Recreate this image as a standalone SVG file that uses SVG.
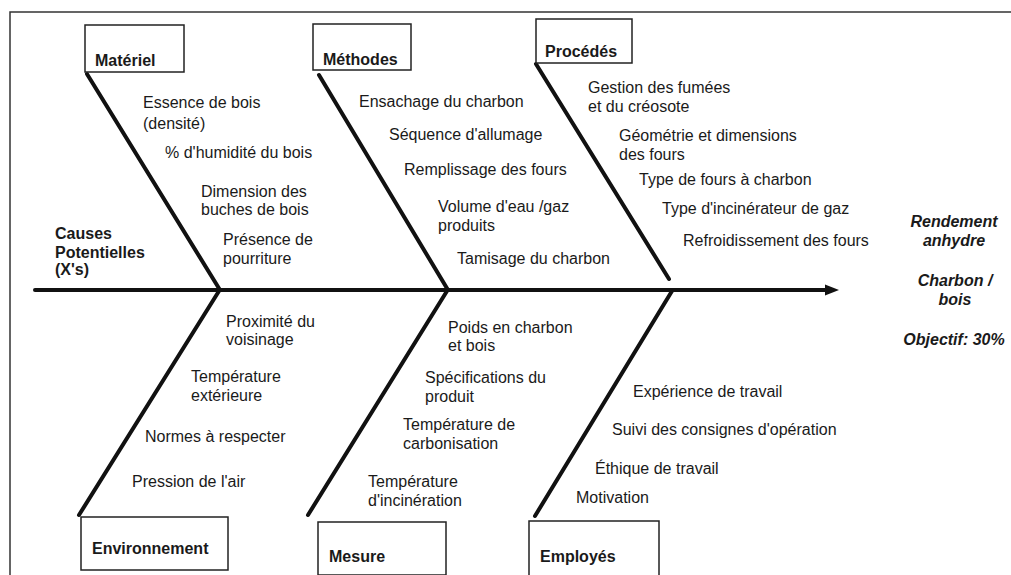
<svg xmlns="http://www.w3.org/2000/svg" width="1011" height="575" viewBox="0 0 1011 575">
<style>
.t{font-family:"Liberation Sans",Arial,sans-serif;font-size:16px;fill:#1a1a1a}
.h{font-family:"Liberation Sans",Arial,sans-serif;font-size:16px;font-weight:bold;fill:#1a1a1a}
.r{font-family:"Liberation Sans",Arial,sans-serif;font-size:16px;font-weight:bold;font-style:italic;fill:#1a1a1a;text-anchor:middle}
.box{fill:#fff;stroke:#222;stroke-width:1.5}
.bone{stroke:#111;stroke-width:4;fill:none;stroke-linecap:round}
</style>
<rect x="0" y="0" width="1011" height="575" fill="#fff"/>
<path d="M10 575 V12 H1011" fill="none" stroke="#333" stroke-width="1.5"/>
<g id="connectors">
<line class="bone" x1="35" y1="290" x2="828" y2="290"/>
<polygon points="825,284.5 839,290 825,295.5" fill="#111"/>
<line class="bone" x1="87" y1="74" x2="220" y2="290"/>
<line class="bone" x1="319" y1="75" x2="448" y2="290"/>
<line class="bone" x1="536" y1="64" x2="669" y2="279"/>
<line class="bone" x1="219" y1="291" x2="79" y2="515"/>
<line class="bone" x1="447" y1="291" x2="308" y2="515"/>
<line class="bone" x1="672" y1="291" x2="535" y2="516"/>
</g>
<g id="causes">
<text class="h" x="55" y="239">Causes</text>
<text class="h" x="55" y="258">Potentielles</text>
<text class="h" x="55" y="275">(X's)</text>
</g>
<g id="materiel">
<rect class="box" x="85" y="25" width="99" height="47"/>
<text class="h" x="95" y="66">Matériel</text>
<text class="t" x="143" y="108">Essence de bois</text>
<text class="t" x="143" y="129">(densité)</text>
<text class="t" x="165" y="158">% d'humidité du bois</text>
<text class="t" x="201" y="197">Dimension des</text>
<text class="t" x="201" y="215">buches de bois</text>
<text class="t" x="223" y="245">Présence de</text>
<text class="t" x="223" y="264">pourriture</text>
</g>
<g id="methodes">
<rect class="box" x="313" y="24" width="98" height="46"/>
<text class="h" x="323" y="65">Méthodes</text>
<text class="t" x="359" y="107">Ensachage du charbon</text>
<text class="t" x="389" y="140">Séquence d'allumage</text>
<text class="t" x="404" y="175">Remplissage des fours</text>
<text class="t" x="438" y="212">Volume d'eau /gaz</text>
<text class="t" x="438" y="231">produits</text>
<text class="t" x="457" y="264">Tamisage du charbon</text>
</g>
<g id="procedes">
<rect class="box" x="536" y="19" width="96" height="44"/>
<text class="h" x="545" y="57">Procédés</text>
<text class="t" x="588" y="93">Gestion des fumées</text>
<text class="t" x="588" y="112">et du créosote</text>
<text class="t" x="619" y="141">Géométrie et dimensions</text>
<text class="t" x="619" y="160">des fours</text>
<text class="t" x="639" y="185">Type de fours à charbon</text>
<text class="t" x="662" y="214">Type d'incinérateur de gaz</text>
<text class="t" x="683" y="246">Refroidissement des fours</text>
</g>
<g id="rendement">
<text class="r" x="954" y="227">Rendement</text>
<text class="r" x="954" y="246">anhydre</text>
<text class="r" x="955" y="286">Charbon /</text>
<text class="r" x="955" y="305">bois</text>
<text class="r" x="954" y="345">Objectif: 30%</text>
</g>
<g id="environnement">
<rect class="box" x="81" y="517" width="147" height="53"/>
<text class="h" x="92" y="554">Environnement</text>
<text class="t" x="226" y="327">Proximité du</text>
<text class="t" x="226" y="345">voisinage</text>
<text class="t" x="191" y="382">Température</text>
<text class="t" x="191" y="401">extérieure</text>
<text class="t" x="145" y="442">Normes à respecter</text>
<text class="t" x="132" y="487">Pression de l'air</text>
</g>
<g id="mesure">
<rect class="box" x="318" y="522" width="128" height="53"/>
<text class="h" x="329" y="562">Mesure</text>
<text class="t" x="448" y="333">Poids en charbon</text>
<text class="t" x="448" y="351">et bois</text>
<text class="t" x="425" y="383">Spécifications du</text>
<text class="t" x="425" y="402">produit</text>
<text class="t" x="403" y="430">Température de</text>
<text class="t" x="403" y="449">carbonisation</text>
<text class="t" x="368" y="487">Température</text>
<text class="t" x="368" y="506">d'incinération</text>
</g>
<g id="employes">
<rect class="box" x="529" y="521" width="130" height="56"/>
<text class="h" x="540" y="562">Employés</text>
<text class="t" x="633" y="397">Expérience de travail</text>
<text class="t" x="612" y="435">Suivi des consignes d'opération</text>
<text class="t" x="595" y="474">Éthique de travail</text>
<text class="t" x="576" y="503">Motivation</text>
</g>
</svg>
